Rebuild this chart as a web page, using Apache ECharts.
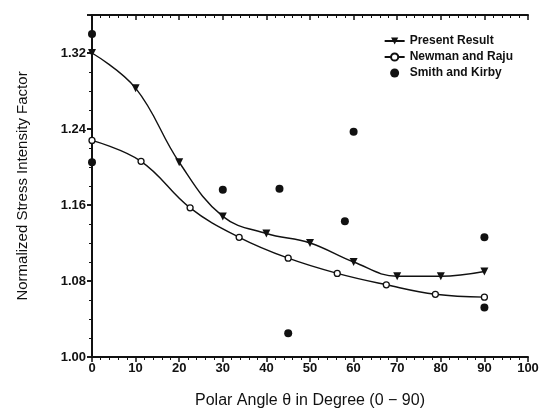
<!DOCTYPE html>
<html>
<head>
<meta charset="utf-8">
<script src="https://cdn.jsdelivr.net/npm/echarts@6/dist/echarts.min.js"></script>
<style>html,body{margin:0;padding:0;background:#fff}#c{width:544px;height:414px}</style>
</head>
<body>
<div id="c"></div>
<script>
const presentX = [0, 10, 20, 30, 40, 50, 60, 70, 80, 90];
const presentY = [1.320, 1.283, 1.205, 1.148, 1.130, 1.120, 1.100, 1.085, 1.085, 1.090];
const newmanX = [0, 11.25, 22.5, 33.75, 45, 56.25, 67.5, 78.75, 90];
const newmanY = [1.228, 1.206, 1.157, 1.126, 1.104, 1.088, 1.076, 1.066, 1.063];
const smithX = [0, 0, 30, 43, 45, 58, 60, 90, 90];
const smithY = [1.340, 1.205, 1.176, 1.177, 1.025, 1.143, 1.237, 1.126, 1.052];
const xTicks = [0, 10, 20, 30, 40, 50, 60, 70, 80, 90, 100];
const yTicks = ['1.00', '1.08', '1.16', '1.24', '1.32'];

const pair = (xs, ys) => xs.map((x, i) => [x, ys[i]]);
const font = '"Liberation Sans", Arial, sans-serif';
const black = '#111';

const chart = echarts.init(document.getElementById('c'), null, {renderer: 'canvas'});
const baseX = {
  type: 'value', min: 0, max: 100, interval: 10,
  axisLine: {lineStyle: {color: black, width: 2}},
  splitLine: {show: false},
  minorTick: {show: true, splitNumber: 5, length: 3, lineStyle: {color: black, width: 1}}
};
const baseY = {
  type: 'value', min: 1.00, max: 1.36, interval: 0.08,
  axisLine: {lineStyle: {color: black, width: 2}},
  splitLine: {show: false},
  minorTick: {show: true, splitNumber: 4, length: 3, lineStyle: {color: black, width: 1}}
};
chart.setOption({
  animation: false,
  backgroundColor: '#fff',
  grid: {left: 92, right: 16, top: 15, bottom: 57, containLabel: false},
  xAxis: [
    Object.assign({}, baseX, {
      position: 'bottom',
      name: 'Polar Angle θ in Degree (0 − 90)', nameLocation: 'middle', nameGap: 36,
      nameTextStyle: {fontFamily: font, fontSize: 16, color: black},
      axisTick: {show: true, inside: false, length: 5, lineStyle: {color: black, width: 1.5}},
      axisLabel: {fontFamily: font, fontSize: 13, fontWeight: 'bold', color: black, margin: 5,
        formatter: v => xTicks.includes(v) ? String(v) : ''}
    }),
    Object.assign({}, baseX, {
      position: 'top',
      axisTick: {show: true, inside: true, length: 5, lineStyle: {color: black, width: 1.5}},
      axisLabel: {show: false}
    })
  ],
  yAxis: [
    Object.assign({}, baseY, {
      position: 'left',
      name: 'Normalized Stress Intensity Factor', nameLocation: 'middle', nameGap: 62,
      nameTextStyle: {fontFamily: font, fontSize: 15, color: black},
      axisTick: {show: true, inside: false, length: 5, lineStyle: {color: black, width: 1.5}},
      axisLabel: {fontFamily: font, fontSize: 13, fontWeight: 'bold', color: black, margin: 6,
        formatter: v => { const s = v.toFixed(2); return yTicks.includes(s) ? s : ''; }}
    }),
    Object.assign({}, baseY, {
      position: 'right',
      axisTick: {show: true, inside: true, length: 5, lineStyle: {color: black, width: 1.5}},
      axisLabel: {show: false}
    })
  ],
  legend: {
    right: 26, top: 30, orient: 'vertical', itemGap: 4, itemWidth: 20, itemHeight: 9,
    textStyle: {fontFamily: font, fontSize: 12, fontWeight: 'bold', color: black},
    data: ['Present Result', 'Newman and Raju', 'Smith and Kirby']
  },
  series: [
    {
      name: 'Present Result', type: 'line', data: pair(presentX, presentY), smooth: 0.4,
      symbol: 'triangle', symbolRotate: 180, symbolSize: 8,
      lineStyle: {color: black, width: 1.4}, itemStyle: {color: black},
      xAxisIndex: 0, yAxisIndex: 0, z: 3
    },
    {
      name: 'Newman and Raju', type: 'line', data: pair(newmanX, newmanY), smooth: 0.4,
      symbol: 'circle', symbolSize: 6,
      lineStyle: {color: black, width: 1.4}, itemStyle: {color: '#fff', borderColor: black, borderWidth: 1.3},
      xAxisIndex: 0, yAxisIndex: 0, z: 3
    },
    {
      name: 'Smith and Kirby', type: 'scatter', data: pair(smithX, smithY),
      symbol: 'circle', symbolSize: 8, itemStyle: {color: black, opacity: 1},
      xAxisIndex: 0, yAxisIndex: 0, z: 4, clip: false
    }
  ]
});
</script>
</body>
</html>
